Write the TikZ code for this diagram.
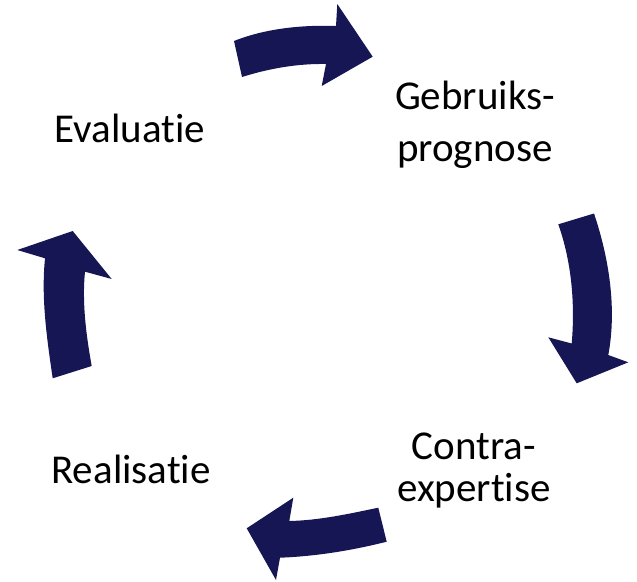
\documentclass[tikz,border=0pt]{standalone}
\usepackage{fontspec}
\setmainfont{Carlito}[Ligatures={NoCommon,NoContextual}]
\definecolor{navy}{RGB}{22,22,84}
\newcommand{\twolines}[3]{\vtop{\baselineskip=#1\lineskiplimit=-100pt\lineskip=0pt\halign{\hfil##\hfil\cr #2\cr #3\cr}}}
\begin{document}
\begin{tikzpicture}[x=1pt,y=-1pt,
  blockarrow/.style={fill=navy,draw=none},
  label/.style={inner sep=0pt,anchor=base,font=\fontsize{41}{50}\selectfont}]
\useasboundingbox (0,0) rectangle (637,581);
% top arrow
\path[blockarrow] (234,41) .. controls (265.6,28.4) and (302,24.8) .. (336,26)
  -- (337.3,4) -- (372.7,56.7) -- (321.7,86) -- (326,64)
  .. controls (297,63.5) and (268.7,68.6) .. (242,77) -- cycle;
% right arrow
\path[blockarrow] (558.3,224.3) -- (594,213.5)
  .. controls (609,258) and (617,308.5) .. (608.3,355)
  -- (628.3,362.3) -- (576.7,383.3) -- (548.3,337.3) -- (571.7,343.5)
  .. controls (575.2,303.5) and (571.5,261.6) .. (558.3,224.3) -- cycle;
% bottom arrow
\path[blockarrow] (378.3,507.7) -- (386.7,541.7)
  .. controls (351.8,550.5) and (316,556.3) .. (280,557.7)
  -- (276,580) -- (246.7,528.3) -- (293.3,497.7) -- (289.3,521)
  .. controls (319.3,520.4) and (348.9,513.8) .. (378.3,507.7) -- cycle;
% left arrow
\path[blockarrow] (52.7,378.3) -- (91.7,366)
  .. controls (86.2,335.5) and (81.9,302.5) .. (85,271.7)
  -- (111.7,279) -- (72.7,231) -- (17.3,250) -- (45,258.3)
  .. controls (41,298.1) and (46.9,338.7) .. (52.7,378.3) -- cycle;
% labels
\node[label] (eval) at (130,142.7) {Evaluatie};
\node[label] (real) at (131,483.3) {Realisatie};
\node[label] (gebr) at (475,109.3) {\twolines{52.4pt}{Gebruiks-}{prognose}};
\node[label] (contra) at (474,459.3) {\twolines{41.7pt}{Contra-}{expertise}};
\end{tikzpicture}
\end{document}
